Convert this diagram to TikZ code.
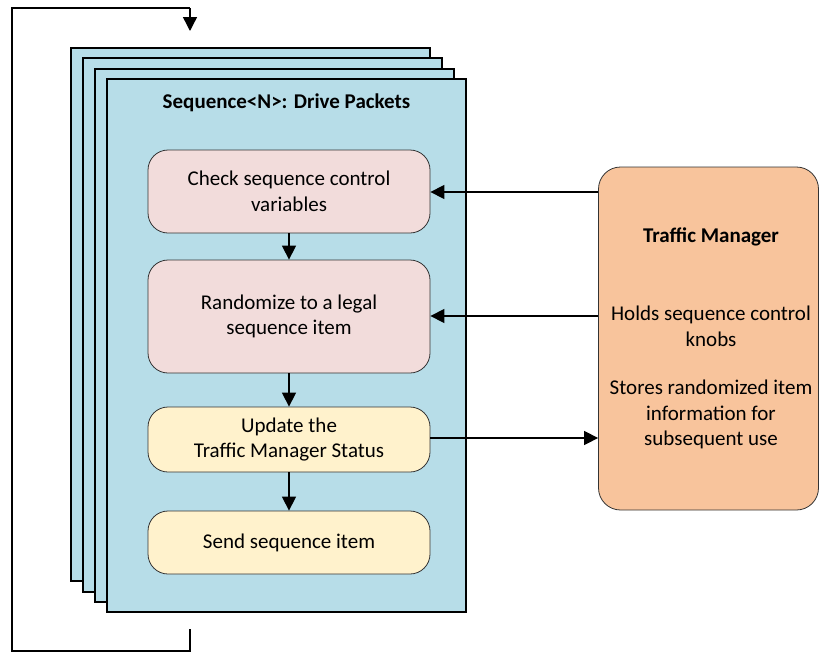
\documentclass[tikz,border=0pt]{standalone}
\usepackage{fontspec}
\setmainfont{Carlito}
\usetikzlibrary{arrows.meta}
\definecolor{seqblue}{HTML}{B7DDE8}
\definecolor{pinkbox}{HTML}{F2DCDB}
\definecolor{yelbox}{HTML}{FFF2CC}
\definecolor{tmorange}{HTML}{F8C49C}
\begin{document}
\begin{tikzpicture}[x=1pt,y=-1pt,
  layer/.style={draw=black,line width=1.8pt,fill=seqblue},
  stepbox/.style={draw=black!80,line width=0.8pt,rounded corners=20pt,align=center,font=\fontsize{21}{25.5}\selectfont,inner sep=0pt},
  conn/.style={line width=1.4pt,-{Triangle[length=14pt,width=14pt]}},
  plain/.style={line width=1.4pt}]
\useasboundingbox (0,0) rectangle (819,653);
% stacked layers
\filldraw[layer] (71,48) rectangle (430,581);
\filldraw[layer] (83,58) rectangle (442,592);
\filldraw[layer] (95,69) rectangle (454,602);
\filldraw[layer] (107,79) rectangle (466,612);
\node[font=\fontsize{21}{25}\selectfont\bfseries] (title) at (286.5,103) {Sequence<N>: Drive Packets};
% steps
\node[stepbox,fill=pinkbox,minimum width=282pt,minimum height=83pt] (b1) at (289,191.5) {Check sequence control\\variables};
\node[stepbox,fill=pinkbox,minimum width=282pt,minimum height=113pt] (b2) at (289,316.5) {Randomize to a legal\\sequence item};
\node[stepbox,fill=yelbox,minimum width=282pt,minimum height=65pt] (b3) at (289,439.5) {Update the\\Traffic Manager Status};
\node[stepbox,fill=yelbox,minimum width=282pt,minimum height=63pt] (b4) at (289,542.5) {Send sequence item};
% traffic manager
\node[draw=black!80,line width=0.8pt,rounded corners=22pt,fill=tmorange,minimum width=220pt,minimum height=343pt] (tm) at (708.5,338.5) {};
\node[font=\fontsize{21}{25.5}\selectfont\bfseries] (tmt) at (711,237) {Traffic Manager};
\node[font=\fontsize{21}{25.5}\selectfont,align=center] (tm1) at (711,326.5) {Holds sequence control\\knobs};
\node[font=\fontsize{21}{25.5}\selectfont,align=center] (tm2) at (711,414.5) {Stores randomized item\\information for\\subsequent use};
% connectors
\draw[conn] (b1.south) -- (b2.north);
\draw[conn] (b2.south) -- (b3.north);
\draw[conn] (b3.south) -- (b4.north);
\draw[conn] (tm.west |- 0,192) -- (b1.east |- 0,192);
\draw[conn] (tm.west |- 0,316) -- (b2.east |- 0,316);
\draw[conn] (b3.east |- 0,438) -- (tm.west |- 0,438);
% feedback loop
\coordinate (lb) at (190,629);
\coordinate (lt) at (190,31);
\draw[plain] (lb) -- (190,651) -- (12,651) -- (12,8) -- (190,8);
\draw[conn] (190,8) -- (lt);
\end{tikzpicture}
\end{document}
